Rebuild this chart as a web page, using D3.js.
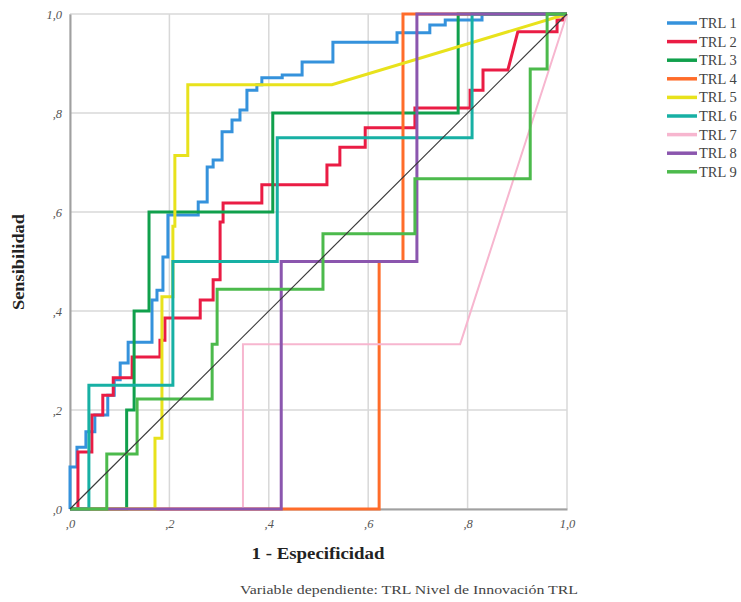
<!DOCTYPE html>
<html>
<head>
<meta charset="utf-8">
<script src="https://cdn.jsdelivr.net/npm/d3@7"></script>
<style>
  body { margin: 0; background: #fff; }
  svg { display: block; font-family: "Liberation Serif", "DejaVu Serif", serif; }
</style>
</head>
<body>
<svg id="chart" width="741" height="602"></svg>
<script>
// ROC coordinates (1 - especificidad, sensibilidad)
const trl1 = [[0,0],[0,0.085],[0.014,0.085],[0.014,0.125],[0.032,0.125],[0.032,0.156],[0.05,0.156],[0.05,0.19],
  [0.076,0.19],[0.076,0.23],[0.089,0.23],[0.089,0.261],[0.101,0.261],[0.101,0.295],[0.117,0.295],[0.117,0.337],
  [0.165,0.337],[0.165,0.422],[0.175,0.422],[0.175,0.442],[0.187,0.442],[0.187,0.509],[0.197,0.509],[0.197,0.594],
  [0.258,0.594],[0.258,0.62],[0.276,0.62],[0.276,0.691],[0.288,0.691],[0.288,0.705],[0.306,0.705],[0.306,0.762],
  [0.326,0.762],[0.326,0.786],[0.342,0.786],[0.342,0.806],[0.356,0.806],[0.356,0.846],[0.376,0.846],[0.376,0.857],
  [0.386,0.857],[0.386,0.871],[0.427,0.871],[0.427,0.877],[0.467,0.877],[0.467,0.903],[0.529,0.903],[0.529,0.943],
  [0.658,0.943],[0.658,0.962],[0.724,0.962],[0.724,0.978],[0.755,0.978],[0.755,0.988],[0.829,0.988],[0.829,1],[1,1]]
const trl2 = [[0,0],[0.016,0],[0.016,0.115],[0.044,0.115],[0.044,0.19],[0.066,0.19],[0.066,0.23],[0.087,0.23],
  [0.087,0.265],[0.125,0.265],[0.125,0.307],[0.181,0.307],[0.181,0.341],[0.191,0.341],[0.191,0.386],[0.262,0.386],
  [0.262,0.422],[0.288,0.422],[0.288,0.463],[0.302,0.463],[0.302,0.58],[0.308,0.58],[0.308,0.618],[0.386,0.618],
  [0.386,0.655],[0.517,0.655],[0.517,0.695],[0.543,0.695],[0.543,0.731],[0.594,0.731],[0.594,0.77],[0.694,0.77],
  [0.694,0.81],[0.805,0.81],[0.805,0.846],[0.831,0.846],[0.831,0.887],[0.881,0.887],[0.901,0.964],[0.98,0.964],
  [0.98,0.988],[0.992,0.988],[0.992,1],[1,1]]
const trl3 = [[0,0],[0.114,0],[0.114,0.2],[0.129,0.2],[0.129,0.4],[0.159,0.4],[0.159,0.6],[0.408,0.6],
  [0.408,0.8],[0.781,0.8],[0.781,1],[1,1]]
const trl4 = [[0,0],[0.622,0],[0.622,0.5],[0.67,0.5],[0.67,1],[1,1]]
const trl5 = [[0,0],[0.171,0],[0.171,0.143],[0.185,0.143],[0.185,0.429],[0.207,0.429],[0.207,0.571],[0.211,0.571],
  [0.211,0.714],[0.237,0.714],[0.237,0.857],[0.527,0.857],[1,1]]
const trl6 = [[0,0],[0.038,0],[0.038,0.25],[0.207,0.25],[0.207,0.5],[0.417,0.5],[0.417,0.75],[0.809,0.75],
  [0.809,1],[1,1]]
const trl7 = [[0,0],[0.348,0],[0.348,0.333],[0.785,0.333],[1,1]]
const trl8 = [[0,0],[0.425,0],[0.425,0.5],[0.698,0.5],[0.698,1],[1,1]]
const trl9 = [[0,0],[0.074,0],[0.074,0.111],[0.135,0.111],[0.135,0.222],[0.286,0.222],[0.286,0.333],[0.296,0.333],
  [0.296,0.444],[0.509,0.444],[0.509,0.556],[0.694,0.556],[0.694,0.667],[0.926,0.667],[0.926,0.889],[0.96,0.889],
  [0.96,1],[1,1]]

const seriesNames = ['TRL 1', 'TRL 2', 'TRL 3', 'TRL 4', 'TRL 5', 'TRL 6', 'TRL 7', 'TRL 8', 'TRL 9']
const seriesValues = [trl1, trl2, trl3, trl4, trl5, trl6, trl7, trl8, trl9]
const seriesColors = ['#3592dc', '#ea1c44', '#10a04c', '#ff6c2a', '#e8e21c', '#17b0a4', '#f7b6cf', '#8b56ae', '#4cba4c']
const tickValues = [0, 0.2, 0.4, 0.6, 0.8, 1]

const margin = { left: 70, top: 14 }
const width = 497
const height = 495

const svg = d3.select('#chart')
const g = svg.append('g').attr('transform', `translate(${margin.left},${margin.top})`)

const x = d3.scaleLinear().domain([0, 1]).range([0, width])
const y = d3.scaleLinear().domain([0, 1]).range([height, 0])

const fmt = d => d3.format('.1f')(d).replace(/^0\./, ',').replace('.', ',')

// grid
g.append('g').selectAll('line').data(tickValues).join('line')
  .attr('x1', d => x(d)).attr('x2', d => x(d)).attr('y1', 0).attr('y2', height)
  .attr('stroke', '#d8d8d8').attr('stroke-width', 1.5)
g.append('g').selectAll('line').data(tickValues).join('line')
  .attr('y1', d => y(d)).attr('y2', d => y(d)).attr('x1', 0).attr('x2', width)
  .attr('stroke', '#d8d8d8').attr('stroke-width', 1.5)

// axes
const xAxis = g.append('g').attr('transform', `translate(0,${height})`)
  .call(d3.axisBottom(x).tickValues(tickValues).tickFormat(fmt).tickSize(0).tickPadding(10))
const yAxis = g.append('g')
  .call(d3.axisLeft(y).tickValues(tickValues).tickFormat(fmt).tickSize(0).tickPadding(8))
;[xAxis, yAxis].forEach(a => {
  a.select('.domain').attr('stroke', '#a0a0a0').attr('stroke-width', 2)
  a.selectAll('text').attr('fill', '#555').style('font-size', '12.5px').style('font-style', 'italic')
    .style('font-family', '"Liberation Serif", serif')
})

// curves
const line = d3.line().x(d => x(d[0])).y(d => y(d[1]))
g.append('g').selectAll('path').data(seriesValues).join('path')
  .attr('d', line)
  .attr('fill', 'none')
  .attr('stroke', (d, i) => seriesColors[i])
  .attr('stroke-width', (d, i) => i === 6 ? 2 : 3)
  .attr('stroke-linejoin', 'miter')

// reference diagonal
g.append('path').attr('d', line([[0, 0], [1, 1]]))
  .attr('stroke', '#3a3a3a').attr('stroke-width', 1.2).attr('fill', 'none')

// titles
svg.append('text').attr('x', 318).attr('y', 559).attr('text-anchor', 'middle')
  .style('font-size', '17px').style('font-weight', 'bold').attr('fill', '#222')
  .attr('textLength', 133).attr('lengthAdjust', 'spacingAndGlyphs')
  .text('1 - Especificidad')
svg.append('text').attr('transform', 'translate(24,262) rotate(-90)').attr('text-anchor', 'middle')
  .style('font-size', '17px').style('font-weight', 'bold').attr('fill', '#222')
  .attr('textLength', 96).attr('lengthAdjust', 'spacingAndGlyphs')
  .text('Sensibilidad')
svg.append('text').attr('x', 409).attr('y', 594).attr('text-anchor', 'middle')
  .style('font-size', '13.5px').attr('fill', '#444')
  .attr('textLength', 338).attr('lengthAdjust', 'spacingAndGlyphs')
  .text('Variable dependiente: TRL Nivel de Innovación TRL')

// legend
const legend = svg.append('g').attr('transform', 'translate(667,23)')
const rows = legend.selectAll('g').data(seriesNames).join('g')
  .attr('transform', (d, i) => `translate(0,${i * 18.6})`)
rows.append('line').attr('x1', 0).attr('x2', 30).attr('y1', 0).attr('y2', 0)
  .attr('stroke', (d, i) => seriesColors[i]).attr('stroke-width', 3.5)
rows.append('text').attr('x', 32).attr('y', 5)
  .style('font-size', '14.5px').attr('fill', '#444').text(d => d)
</script>
</body>
</html>
